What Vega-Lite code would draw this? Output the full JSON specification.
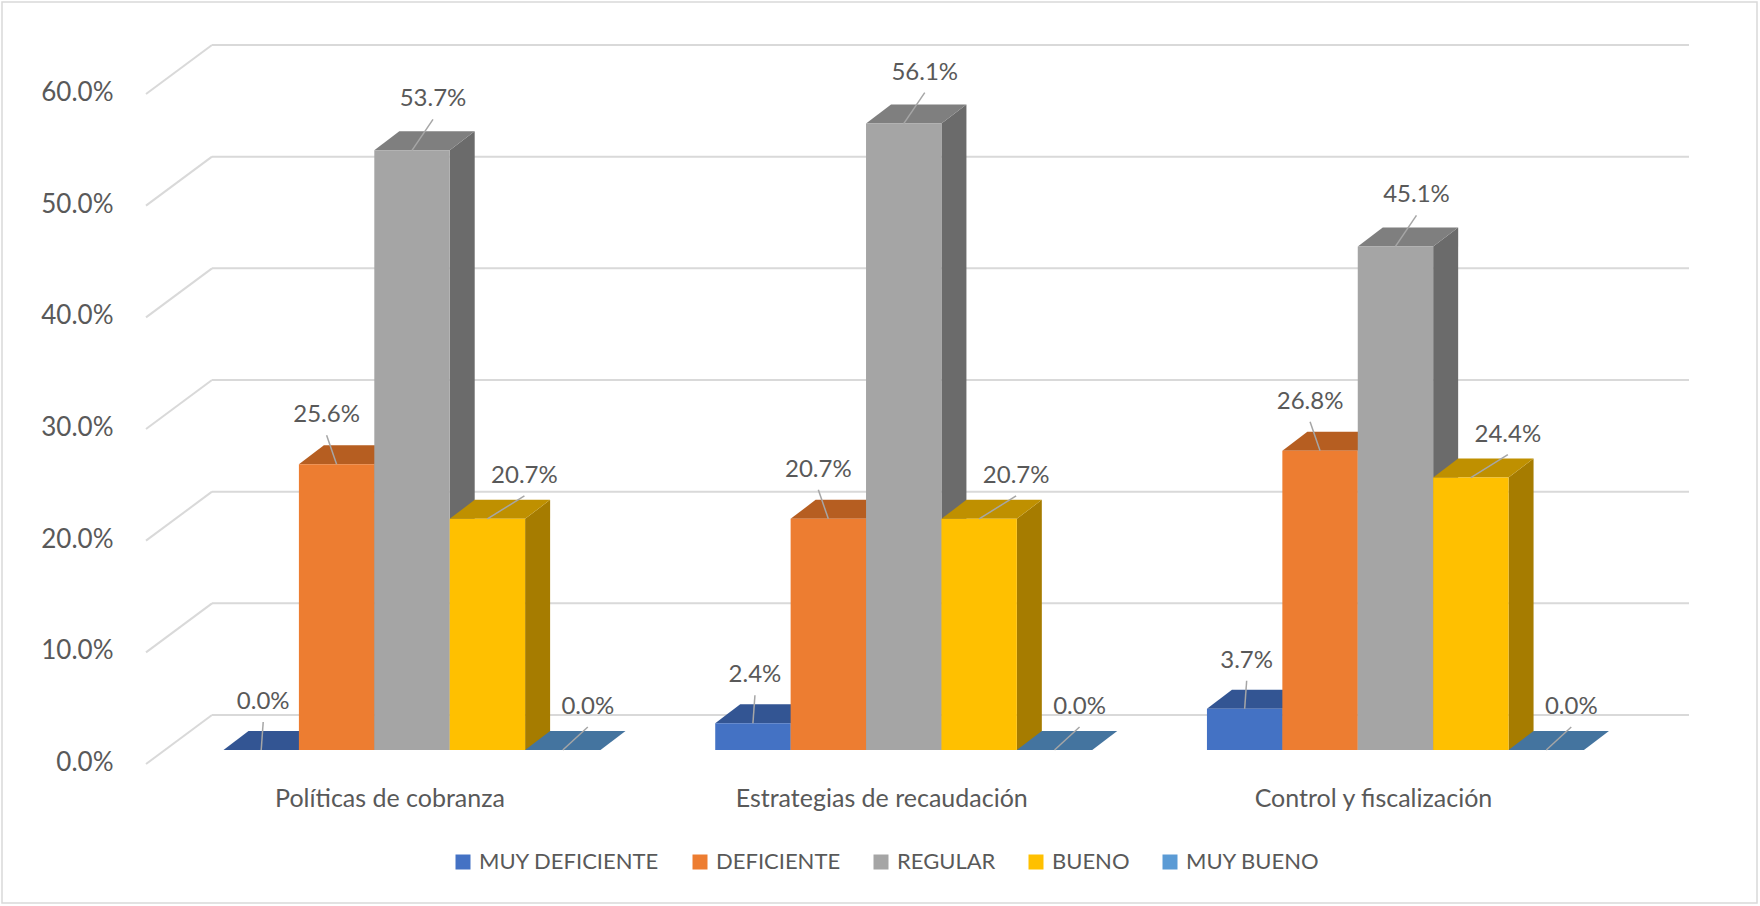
{
  "$schema": "https://vega.github.io/schema/vega-lite/v6.json",
  "width": 1477,
  "height": 670,
  "autosize": {"type": "none"},
  "padding": {"left": 212, "top": 80, "right": 71, "bottom": 156},
  "background": "white",
  "config": {
    "view": {"stroke": null},
    "font": "Lato",
    "axisX": {"domain": false, "ticks": false, "grid": false, "labelAngle": 0, "labelPadding": 36, "labelOffset": -22, "labelFont": "Lato", "labelFontSize": 25, "labelColor": "#595959", "labelLimit": 0},
    "axisY": {"domain": false, "ticks": false, "tickSize": 0, "grid": false, "labelPadding": 99, "labelOffset": 12.5, "labelFont": "Lato", "labelFontSize": 26, "labelColor": "#595959"}
  },
  "datasets": {
    "resultados": [
      {"categoria": "Políticas de cobranza", "serie": "MUY DEFICIENTE", "valor": 0.0},
      {"categoria": "Políticas de cobranza", "serie": "DEFICIENTE", "valor": 0.256},
      {"categoria": "Políticas de cobranza", "serie": "REGULAR", "valor": 0.537},
      {"categoria": "Políticas de cobranza", "serie": "BUENO", "valor": 0.207},
      {"categoria": "Políticas de cobranza", "serie": "MUY BUENO", "valor": 0.0},
      {"categoria": "Estrategias de recaudación", "serie": "MUY DEFICIENTE", "valor": 0.024},
      {"categoria": "Estrategias de recaudación", "serie": "DEFICIENTE", "valor": 0.207},
      {"categoria": "Estrategias de recaudación", "serie": "REGULAR", "valor": 0.561},
      {"categoria": "Estrategias de recaudación", "serie": "BUENO", "valor": 0.207},
      {"categoria": "Estrategias de recaudación", "serie": "MUY BUENO", "valor": 0.0},
      {"categoria": "Control y fiscalización", "serie": "MUY DEFICIENTE", "valor": 0.037},
      {"categoria": "Control y fiscalización", "serie": "DEFICIENTE", "valor": 0.268},
      {"categoria": "Control y fiscalización", "serie": "REGULAR", "valor": 0.451},
      {"categoria": "Control y fiscalización", "serie": "BUENO", "valor": 0.244},
      {"categoria": "Control y fiscalización", "serie": "MUY BUENO", "valor": 0.0}
    ],
    "ticks": [{"v": 0}, {"v": 0.1}, {"v": 0.2}, {"v": 0.3}, {"v": 0.4}, {"v": 0.5}, {"v": 0.6}],
    "marco": [{"id": 1}]
  },
  "data": {"name": "resultados"},
  "resolve": {"scale": {"color": "independent"}},
  "layer": [
    {
      "data": {"name": "marco"},
      "mark": {"type": "point", "shape": "M -948.5 -413 L 806.5 -413 L 806.5 488 L -948.5 488 Z", "size": 4, "filled": false, "color": "#d9d9d9", "strokeWidth": 1.5, "opacity": 1},
      "encoding": {}
    },
    {
      "data": {"name": "ticks"},
      "mark": {"type": "rule", "yOffset": -35, "color": "#d9d9d9", "strokeWidth": 2},
      "encoding": {
        "y": {"field": "v", "type": "quantitative", "scale": {"domain": [0, 0.6], "nice": false}, "axis": {"title": null, "values": [0, 0.1, 0.2, 0.3, 0.4, 0.5, 0.6], "format": ".1%"}}
      }
    },
    {
      "data": {"name": "ticks"},
      "mark": {"type": "point", "shape": "M -738.5 -35 L -804.5 14", "size": 4, "filled": false, "color": "#d9d9d9", "strokeWidth": 2, "opacity": 1},
      "encoding": {
        "y": {"field": "v", "type": "quantitative", "scale": {"domain": [0, 0.6], "nice": false}, "axis": {"title": null, "values": [0, 0.1, 0.2, 0.3, 0.4, 0.5, 0.6], "format": ".1%"}}
      }
    },
    {
      "transform": [{"filter": "datum.valor > 0"}],
      "mark": {"type": "point", "shape": "M 37.7 0 L 62.7 -19 L 62.7 900 L 37.7 900 Z", "size": 4, "filled": true, "opacity": 1, "strokeWidth": 0, "clip": true},
      "encoding": {
        "x": {"field": "categoria", "type": "nominal", "sort": null, "scale": {"type": "band", "paddingInner": 0.2333, "paddingOuter": 0.1185, "align": 0.0987}, "axis": {"title": null}},
        "xOffset": {"field": "serie", "type": "nominal", "sort": ["MUY DEFICIENTE", "DEFICIENTE", "REGULAR", "BUENO", "MUY BUENO"], "scale": {"paddingInner": 0, "paddingOuter": 0}},
        "y": {"field": "valor", "type": "quantitative", "stack": null, "scale": {"domain": [0, 0.6], "nice": false}, "axis": {"title": null, "values": [0, 0.1, 0.2, 0.3, 0.4, 0.5, 0.6], "format": ".1%"}},
        "color": {"field": "serie", "type": "nominal", "legend": null, "scale": {"domain": ["MUY DEFICIENTE", "DEFICIENTE", "REGULAR", "BUENO", "MUY BUENO"], "range": ["#2C4A80", "#9A5120", "#6B6B6B", "#A67C00", "#3B6589"]}}
      }
    },
    {
      "mark": {"type": "point", "shape": "M -37.7 0 L -12.7 -19 L 62.7 -19 L 37.7 0 Z", "size": 4, "filled": true, "opacity": 1, "strokeWidth": 0},
      "encoding": {
        "x": {"field": "categoria", "type": "nominal", "sort": null, "scale": {"type": "band", "paddingInner": 0.2333, "paddingOuter": 0.1185, "align": 0.0987}, "axis": {"title": null}},
        "xOffset": {"field": "serie", "type": "nominal", "sort": ["MUY DEFICIENTE", "DEFICIENTE", "REGULAR", "BUENO", "MUY BUENO"], "scale": {"paddingInner": 0, "paddingOuter": 0}},
        "y": {"field": "valor", "type": "quantitative", "stack": null, "scale": {"domain": [0, 0.6], "nice": false}, "axis": {"title": null, "values": [0, 0.1, 0.2, 0.3, 0.4, 0.5, 0.6], "format": ".1%"}},
        "color": {"field": "serie", "type": "nominal", "legend": null, "scale": {"domain": ["MUY DEFICIENTE", "DEFICIENTE", "REGULAR", "BUENO", "MUY BUENO"], "range": ["#335593", "#B65E21", "#7F7F7F", "#BF9000", "#44749F"]}}
      }
    },
    {
      "mark": {"type": "bar"},
      "encoding": {
        "x": {"field": "categoria", "type": "nominal", "sort": null, "scale": {"type": "band", "paddingInner": 0.2333, "paddingOuter": 0.1185, "align": 0.0987}, "axis": {"title": null}},
        "xOffset": {"field": "serie", "type": "nominal", "sort": ["MUY DEFICIENTE", "DEFICIENTE", "REGULAR", "BUENO", "MUY BUENO"], "scale": {"paddingInner": 0, "paddingOuter": 0}},
        "y": {"field": "valor", "type": "quantitative", "stack": null, "scale": {"domain": [0, 0.6], "nice": false}, "axis": {"title": null, "values": [0, 0.1, 0.2, 0.3, 0.4, 0.5, 0.6], "format": ".1%"}},
        "color": {"field": "serie", "type": "nominal", "title": null,
          "scale": {"domain": ["MUY DEFICIENTE", "DEFICIENTE", "REGULAR", "BUENO", "MUY BUENO"], "range": ["#4472C4", "#ED7D31", "#A5A5A5", "#FFC000", "#5B9BD5"]},
          "legend": {"orient": "none", "legendX": 240, "legendY": 771, "direction": "horizontal", "columns": 5, "symbolType": "square", "symbolSize": 225, "symbolStrokeWidth": 0, "labelFont": "Lato", "labelFontSize": 22, "labelColor": "#595959", "labelLimit": 0, "columnPadding": 29, "labelOffset": 5}}
      }
    },
    {
      "transform": [{"filter": "datum.serie === 'MUY DEFICIENTE'"}],
      "mark": {"type": "point", "shape": "M 0 0 L 2 -28", "size": 4, "filled": false, "color": "#a6a6a6", "strokeWidth": 1.5, "opacity": 1},
      "encoding": {
        "x": {"field": "categoria", "type": "nominal", "sort": null, "scale": {"type": "band", "paddingInner": 0.2333, "paddingOuter": 0.1185, "align": 0.0987}, "axis": {"title": null}},
        "xOffset": {"field": "serie", "type": "nominal", "sort": ["MUY DEFICIENTE", "DEFICIENTE", "REGULAR", "BUENO", "MUY BUENO"], "scale": {"paddingInner": 0, "paddingOuter": 0}},
        "y": {"field": "valor", "type": "quantitative", "stack": null, "scale": {"domain": [0, 0.6], "nice": false}, "axis": {"title": null, "values": [0, 0.1, 0.2, 0.3, 0.4, 0.5, 0.6], "format": ".1%"}}
      }
    },
    {
      "transform": [{"filter": "datum.serie === 'DEFICIENTE'"}],
      "mark": {"type": "point", "shape": "M 0 0 L -10 -29", "size": 4, "filled": false, "color": "#a6a6a6", "strokeWidth": 1.5, "opacity": 1},
      "encoding": {
        "x": {"field": "categoria", "type": "nominal", "sort": null, "scale": {"type": "band", "paddingInner": 0.2333, "paddingOuter": 0.1185, "align": 0.0987}, "axis": {"title": null}},
        "xOffset": {"field": "serie", "type": "nominal", "sort": ["MUY DEFICIENTE", "DEFICIENTE", "REGULAR", "BUENO", "MUY BUENO"], "scale": {"paddingInner": 0, "paddingOuter": 0}},
        "y": {"field": "valor", "type": "quantitative", "stack": null, "scale": {"domain": [0, 0.6], "nice": false}, "axis": {"title": null, "values": [0, 0.1, 0.2, 0.3, 0.4, 0.5, 0.6], "format": ".1%"}}
      }
    },
    {
      "transform": [{"filter": "datum.serie === 'REGULAR'"}],
      "mark": {"type": "point", "shape": "M 0 0 L 21 -31", "size": 4, "filled": false, "color": "#a6a6a6", "strokeWidth": 1.5, "opacity": 1},
      "encoding": {
        "x": {"field": "categoria", "type": "nominal", "sort": null, "scale": {"type": "band", "paddingInner": 0.2333, "paddingOuter": 0.1185, "align": 0.0987}, "axis": {"title": null}},
        "xOffset": {"field": "serie", "type": "nominal", "sort": ["MUY DEFICIENTE", "DEFICIENTE", "REGULAR", "BUENO", "MUY BUENO"], "scale": {"paddingInner": 0, "paddingOuter": 0}},
        "y": {"field": "valor", "type": "quantitative", "stack": null, "scale": {"domain": [0, 0.6], "nice": false}, "axis": {"title": null, "values": [0, 0.1, 0.2, 0.3, 0.4, 0.5, 0.6], "format": ".1%"}}
      }
    },
    {
      "transform": [{"filter": "datum.serie === 'BUENO'"}],
      "mark": {"type": "point", "shape": "M 0 0 L 37 -23", "size": 4, "filled": false, "color": "#a6a6a6", "strokeWidth": 1.5, "opacity": 1},
      "encoding": {
        "x": {"field": "categoria", "type": "nominal", "sort": null, "scale": {"type": "band", "paddingInner": 0.2333, "paddingOuter": 0.1185, "align": 0.0987}, "axis": {"title": null}},
        "xOffset": {"field": "serie", "type": "nominal", "sort": ["MUY DEFICIENTE", "DEFICIENTE", "REGULAR", "BUENO", "MUY BUENO"], "scale": {"paddingInner": 0, "paddingOuter": 0}},
        "y": {"field": "valor", "type": "quantitative", "stack": null, "scale": {"domain": [0, 0.6], "nice": false}, "axis": {"title": null, "values": [0, 0.1, 0.2, 0.3, 0.4, 0.5, 0.6], "format": ".1%"}}
      }
    },
    {
      "transform": [{"filter": "datum.serie === 'MUY BUENO'"}],
      "mark": {"type": "point", "shape": "M 0 0 L 25 -23", "size": 4, "filled": false, "color": "#a6a6a6", "strokeWidth": 1.5, "opacity": 1},
      "encoding": {
        "x": {"field": "categoria", "type": "nominal", "sort": null, "scale": {"type": "band", "paddingInner": 0.2333, "paddingOuter": 0.1185, "align": 0.0987}, "axis": {"title": null}},
        "xOffset": {"field": "serie", "type": "nominal", "sort": ["MUY DEFICIENTE", "DEFICIENTE", "REGULAR", "BUENO", "MUY BUENO"], "scale": {"paddingInner": 0, "paddingOuter": 0}},
        "y": {"field": "valor", "type": "quantitative", "stack": null, "scale": {"domain": [0, 0.6], "nice": false}, "axis": {"title": null, "values": [0, 0.1, 0.2, 0.3, 0.4, 0.5, 0.6], "format": ".1%"}}
      }
    },
    {
      "transform": [{"filter": "datum.serie === 'MUY DEFICIENTE'"}],
      "mark": {"type": "text", "dx": 2, "dy": -48, "font": "Lato", "fontSize": 24, "color": "#595959", "baseline": "middle", "align": "center"},
      "encoding": {
        "x": {"field": "categoria", "type": "nominal", "sort": null, "scale": {"type": "band", "paddingInner": 0.2333, "paddingOuter": 0.1185, "align": 0.0987}, "axis": {"title": null}},
        "xOffset": {"field": "serie", "type": "nominal", "sort": ["MUY DEFICIENTE", "DEFICIENTE", "REGULAR", "BUENO", "MUY BUENO"], "scale": {"paddingInner": 0, "paddingOuter": 0}},
        "y": {"field": "valor", "type": "quantitative", "stack": null, "scale": {"domain": [0, 0.6], "nice": false}, "axis": {"title": null, "values": [0, 0.1, 0.2, 0.3, 0.4, 0.5, 0.6], "format": ".1%"}},
        "text": {"field": "valor", "type": "quantitative", "format": ".1%"}
      }
    },
    {
      "transform": [{"filter": "datum.serie === 'DEFICIENTE'"}],
      "mark": {"type": "text", "dx": -10, "dy": -49, "font": "Lato", "fontSize": 24, "color": "#595959", "baseline": "middle", "align": "center"},
      "encoding": {
        "x": {"field": "categoria", "type": "nominal", "sort": null, "scale": {"type": "band", "paddingInner": 0.2333, "paddingOuter": 0.1185, "align": 0.0987}, "axis": {"title": null}},
        "xOffset": {"field": "serie", "type": "nominal", "sort": ["MUY DEFICIENTE", "DEFICIENTE", "REGULAR", "BUENO", "MUY BUENO"], "scale": {"paddingInner": 0, "paddingOuter": 0}},
        "y": {"field": "valor", "type": "quantitative", "stack": null, "scale": {"domain": [0, 0.6], "nice": false}, "axis": {"title": null, "values": [0, 0.1, 0.2, 0.3, 0.4, 0.5, 0.6], "format": ".1%"}},
        "text": {"field": "valor", "type": "quantitative", "format": ".1%"}
      }
    },
    {
      "transform": [{"filter": "datum.serie === 'REGULAR'"}],
      "mark": {"type": "text", "dx": 21, "dy": -51, "font": "Lato", "fontSize": 24, "color": "#595959", "baseline": "middle", "align": "center"},
      "encoding": {
        "x": {"field": "categoria", "type": "nominal", "sort": null, "scale": {"type": "band", "paddingInner": 0.2333, "paddingOuter": 0.1185, "align": 0.0987}, "axis": {"title": null}},
        "xOffset": {"field": "serie", "type": "nominal", "sort": ["MUY DEFICIENTE", "DEFICIENTE", "REGULAR", "BUENO", "MUY BUENO"], "scale": {"paddingInner": 0, "paddingOuter": 0}},
        "y": {"field": "valor", "type": "quantitative", "stack": null, "scale": {"domain": [0, 0.6], "nice": false}, "axis": {"title": null, "values": [0, 0.1, 0.2, 0.3, 0.4, 0.5, 0.6], "format": ".1%"}},
        "text": {"field": "valor", "type": "quantitative", "format": ".1%"}
      }
    },
    {
      "transform": [{"filter": "datum.serie === 'BUENO'"}],
      "mark": {"type": "text", "dx": 37, "dy": -43, "font": "Lato", "fontSize": 24, "color": "#595959", "baseline": "middle", "align": "center"},
      "encoding": {
        "x": {"field": "categoria", "type": "nominal", "sort": null, "scale": {"type": "band", "paddingInner": 0.2333, "paddingOuter": 0.1185, "align": 0.0987}, "axis": {"title": null}},
        "xOffset": {"field": "serie", "type": "nominal", "sort": ["MUY DEFICIENTE", "DEFICIENTE", "REGULAR", "BUENO", "MUY BUENO"], "scale": {"paddingInner": 0, "paddingOuter": 0}},
        "y": {"field": "valor", "type": "quantitative", "stack": null, "scale": {"domain": [0, 0.6], "nice": false}, "axis": {"title": null, "values": [0, 0.1, 0.2, 0.3, 0.4, 0.5, 0.6], "format": ".1%"}},
        "text": {"field": "valor", "type": "quantitative", "format": ".1%"}
      }
    },
    {
      "transform": [{"filter": "datum.serie === 'MUY BUENO'"}],
      "mark": {"type": "text", "dx": 25, "dy": -43, "font": "Lato", "fontSize": 24, "color": "#595959", "baseline": "middle", "align": "center"},
      "encoding": {
        "x": {"field": "categoria", "type": "nominal", "sort": null, "scale": {"type": "band", "paddingInner": 0.2333, "paddingOuter": 0.1185, "align": 0.0987}, "axis": {"title": null}},
        "xOffset": {"field": "serie", "type": "nominal", "sort": ["MUY DEFICIENTE", "DEFICIENTE", "REGULAR", "BUENO", "MUY BUENO"], "scale": {"paddingInner": 0, "paddingOuter": 0}},
        "y": {"field": "valor", "type": "quantitative", "stack": null, "scale": {"domain": [0, 0.6], "nice": false}, "axis": {"title": null, "values": [0, 0.1, 0.2, 0.3, 0.4, 0.5, 0.6], "format": ".1%"}},
        "text": {"field": "valor", "type": "quantitative", "format": ".1%"}
      }
    }
  ]
}
